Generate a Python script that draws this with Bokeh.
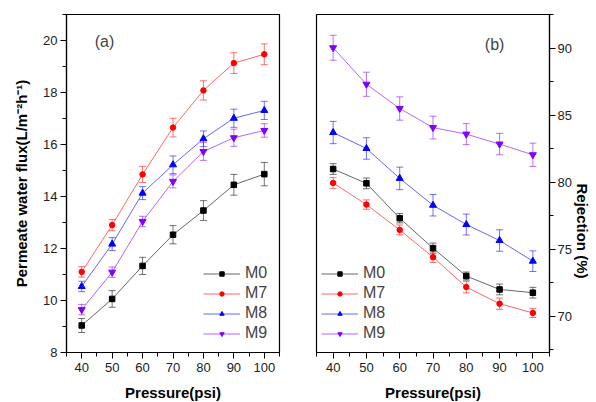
import math
from bokeh.plotting import figure
from bokeh.layouts import row
from bokeh.models import (ColumnDataSource, Whisker, TeeHead, Legend, LegendItem,
                          SingleIntervalTicker, Range1d, Label)
from bokeh.embed import file_html
from bokeh.resources import INLINE

pressure = [40, 50, 60, 70, 80, 90, 100]
series = ["M0", "M7", "M8", "M9"]

flux_M0 = [9.04, 10.06, 11.33, 12.53, 13.46, 14.45, 14.86]
flux_M7 = [11.1, 12.9, 14.85, 16.65, 18.08, 19.13, 19.47]
flux_M8 = [10.54, 12.17, 14.13, 15.22, 16.22, 17.01, 17.31]
flux_M9 = [9.65, 11.09, 13.04, 14.58, 15.73, 16.26, 16.54]
flux_err_M0 = [0.27, 0.32, 0.33, 0.35, 0.38, 0.40, 0.45]
flux_err_M7 = [0.20, 0.22, 0.31, 0.36, 0.37, 0.40, 0.40]
flux_err_M8 = [0.20, 0.25, 0.25, 0.34, 0.30, 0.35, 0.35]
flux_err_M9 = [0.20, 0.20, 0.20, 0.25, 0.34, 0.33, 0.26]

rej_M0 = [80.98, 79.91, 77.31, 75.08, 73.0, 72.0, 71.76]
rej_M7 = [79.94, 78.33, 76.44, 74.41, 72.18, 70.94, 70.25]
rej_M8 = [83.7, 82.51, 80.28, 78.28, 76.84, 75.65, 74.11]
rej_M9 = [90.02, 87.3, 85.49, 84.07, 83.58, 82.84, 82.04]
rej_err_M0 = [0.40, 0.40, 0.35, 0.38, 0.30, 0.40, 0.40]
rej_err_M7 = [0.40, 0.35, 0.37, 0.40, 0.43, 0.42, 0.34]
rej_err_M8 = [0.83, 0.80, 0.84, 0.80, 0.78, 0.80, 0.77]
rej_err_M9 = [0.93, 0.90, 0.87, 0.85, 0.78, 0.80, 0.87]

colors = {"M0": "#000000", "M7": "#FF0000", "M8": "#0000FF", "M9": "#8000FF"}
markers = {"M0": "square", "M7": "circle", "M8": "triangle", "M9": "inverted_triangle"}

FONT = "Liberation Sans"

flux = {"M0": (flux_M0, flux_err_M0), "M7": (flux_M7, flux_err_M7),
        "M8": (flux_M8, flux_err_M8), "M9": (flux_M9, flux_err_M9)}
rej = {"M0": (rej_M0, rej_err_M0), "M7": (rej_M7, rej_err_M7),
       "M8": (rej_M8, rej_err_M8), "M9": (rej_M9, rej_err_M9)}


def style_axis(ax):
    ax.axis_line_color = "black"
    ax.axis_line_width = 1.2
    ax.major_tick_line_color = "black"
    ax.minor_tick_line_color = "black"
    ax.major_tick_in = 0
    ax.major_tick_out = 6
    ax.minor_tick_in = 0
    ax.minor_tick_out = 4
    ax.major_label_text_font = FONT
    ax.major_label_text_font_size = "13px"
    ax.major_label_text_color = "#222222"
    ax.axis_label_text_font = FONT
    ax.axis_label_text_font_size = "15px"
    ax.axis_label_text_font_style = "bold"
    ax.axis_label_text_color = "black"


def build(data, yr, ytick, y_loc, fw, bl, br, legend_xy, tag, tag_xy, ylabel):
    p = figure(frame_width=fw, frame_height=338, output_backend="svg",
               toolbar_location=None, x_range=Range1d(35, 105),
               y_range=Range1d(*yr), y_axis_location=y_loc,
               min_border_left=bl, min_border_right=br,
               min_border_top=14, min_border_bottom=50)
    p.xgrid.visible = False
    p.ygrid.visible = False
    p.outline_line_color = "black"
    p.outline_line_width = 1.2
    p.background_fill_color = "white"
    p.border_fill_color = "white"
    p.xaxis.ticker = SingleIntervalTicker(interval=10, num_minor_ticks=2)
    p.yaxis.ticker = SingleIntervalTicker(interval=ytick, num_minor_ticks=2)
    p.xaxis.axis_label = "Pressure(psi)"
    p.yaxis.axis_label = ylabel
    for ax in p.xaxis + p.yaxis:
        style_axis(ax)
    p.xaxis.major_label_standoff = 4
    p.xaxis.axis_label_standoff = 9
    p.yaxis.major_label_standoff = 3
    p.yaxis.axis_label_standoff = 10
    items = []
    for s in series:
        vals, errs = data[s]
        src = ColumnDataSource(dict(x=pressure, y=vals,
                                    lo=[v - e for v, e in zip(vals, errs)],
                                    hi=[v + e for v, e in zip(vals, errs)]))
        c = colors[s]
        w = Whisker(source=src, base="x", lower="lo", upper="hi",
                    line_color=c, line_alpha=0.55, line_width=1,
                    upper_head=TeeHead(size=7, line_color=c, line_alpha=0.55),
                    lower_head=TeeHead(size=7, line_color=c, line_alpha=0.55))
        p.add_layout(w)
        ln = p.line("x", "y", source=src, line_color=c, line_width=1, line_alpha=0.6)
        sz = 5.5 if markers[s] in ("square", "circle") else 7
        mk = p.scatter("x", "y", source=src, marker=markers[s], size=sz,
                       fill_color=c, line_color=c)
        items.append(LegendItem(label=s, renderers=[ln, mk]))
    leg = Legend(items=items, location=legend_xy, border_line_color=None,
                 background_fill_alpha=0, padding=0, margin=0, spacing=0,
                 label_height=20, glyph_height=11, glyph_width=37,
                 label_standoff=5, label_text_font=FONT,
                 label_text_font_size="16px")
    p.add_layout(leg)
    p.add_layout(Label(x=tag_xy[0], y=tag_xy[1], text=tag, text_font=FONT,
                       text_font_size="16px", text_baseline="middle",
                       text_align="center"))
    return p


p1 = build(flux, (8, 21), 2, "left", 213, 66, 11, (137, 9), "(a)", (47.5, 19.95),
           "Permeate water flux(L/m\u207b\u00b2h\u207b\u00b9)")
p2 = build(rej, (67.3, 92.5), 5, "right", 233, 26, 47, (5, 9), "(b)", (88.5, 90.3),
           "Rejection (%)")
ax = p2.yaxis[0]
if "axis_label_orientation" in ax.properties():
    ax.axis_label_orientation = -math.pi / 2
p2.yaxis.major_label_standoff = 2
p2.yaxis.axis_label_standoff = 8

layout = row(p1, p2, spacing=0)
open("out.html", "w").write(file_html(layout, INLINE))
